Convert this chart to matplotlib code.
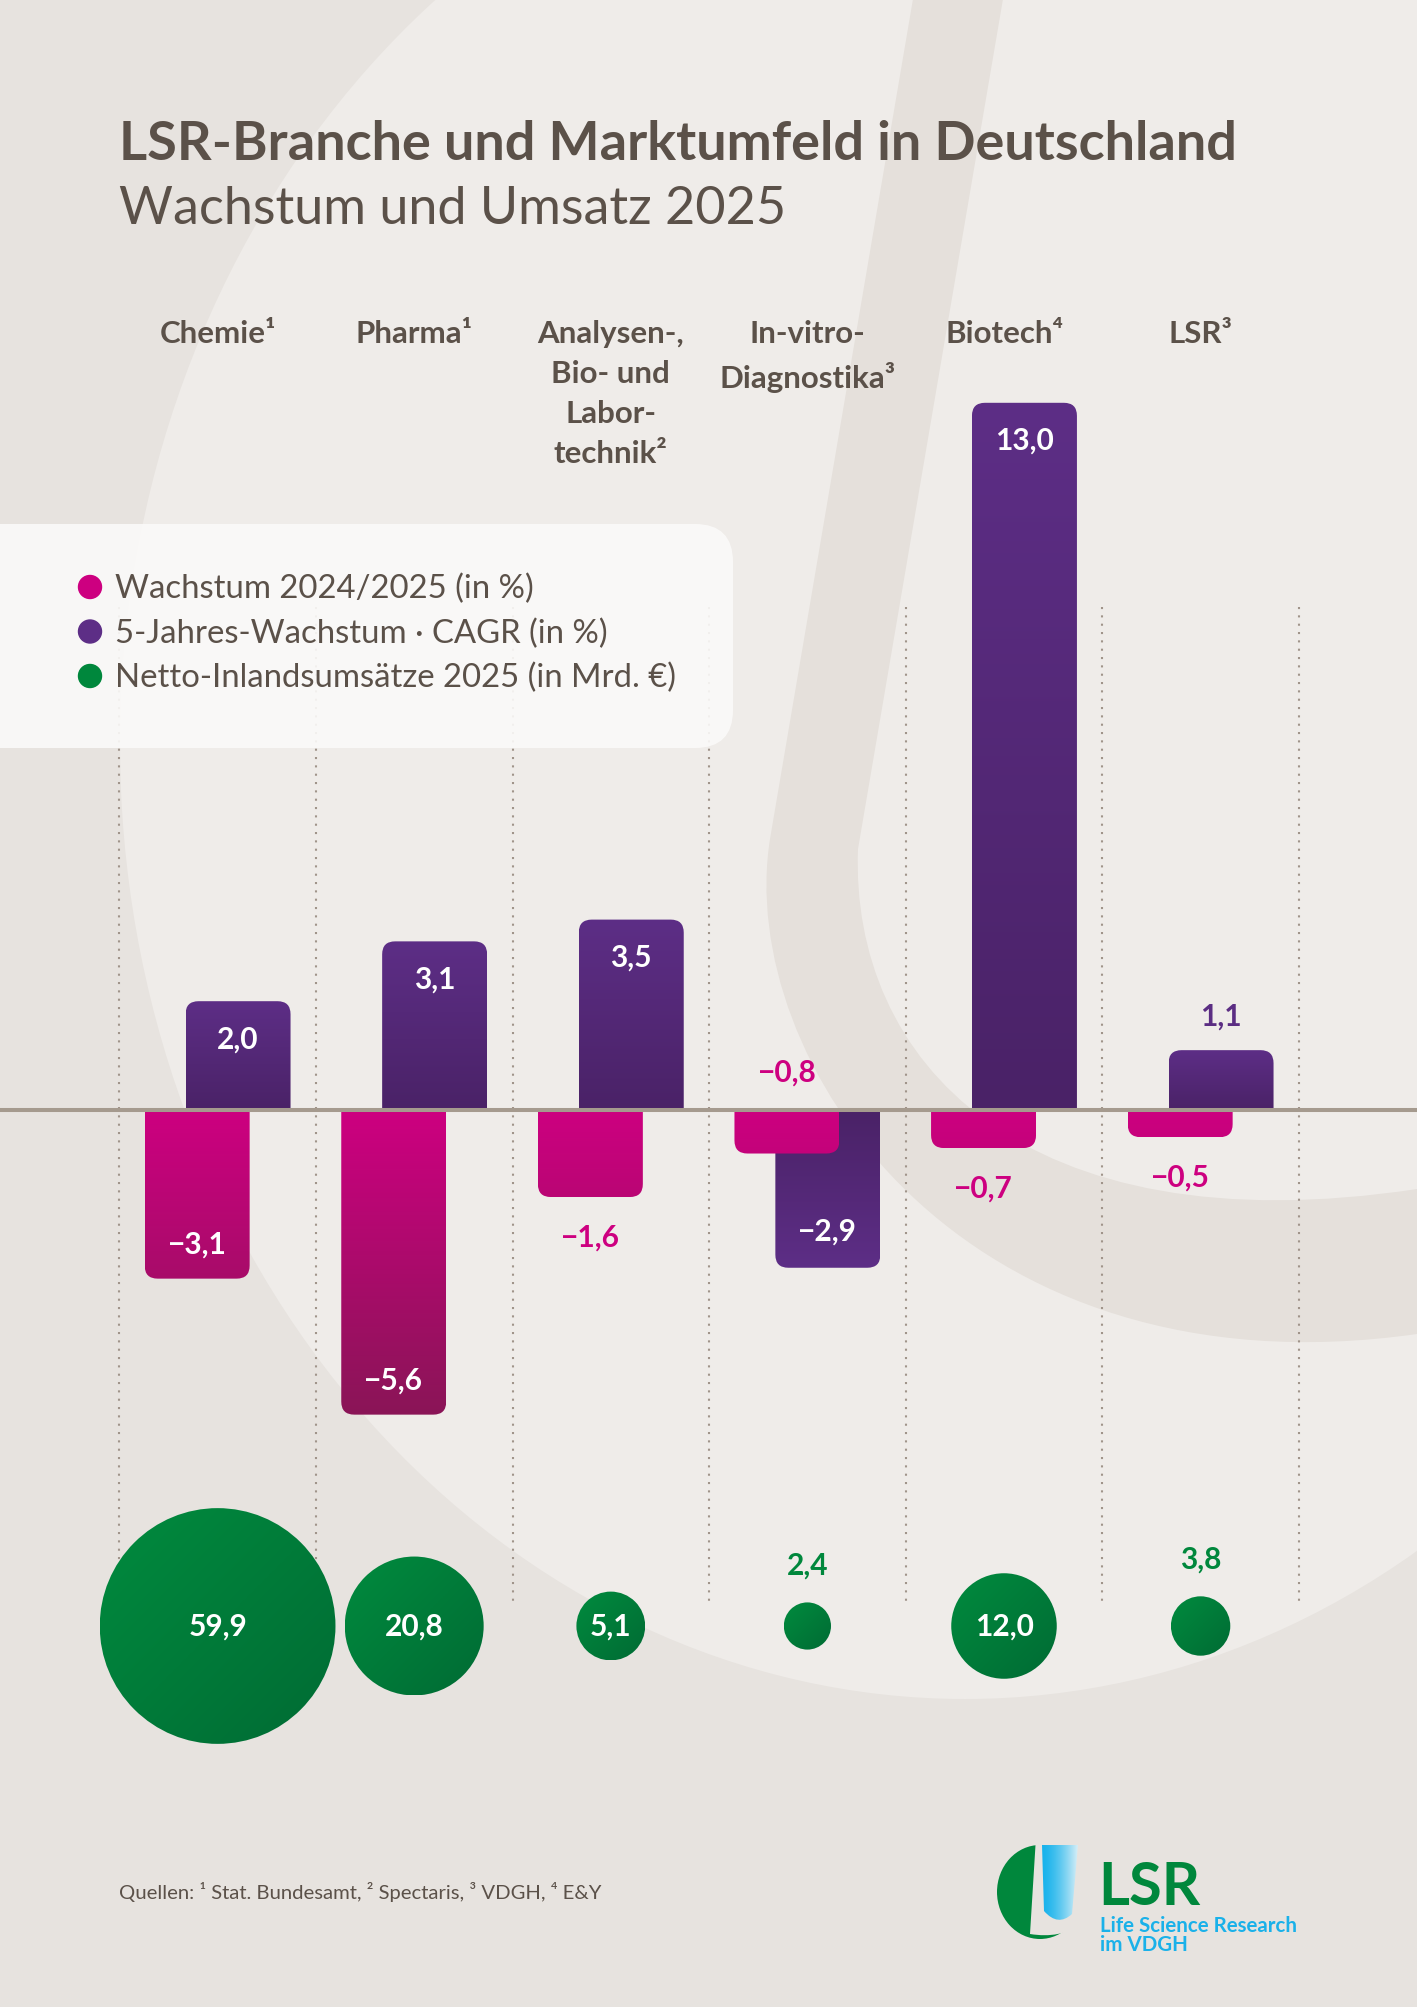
import numpy as np
import matplotlib
matplotlib.use("Agg")
import matplotlib.pyplot as plt
from matplotlib.path import Path
from matplotlib.patches import PathPatch, FancyBboxPatch, Ellipse, Rectangle, Circle
from matplotlib.colors import to_rgb

# ---------------- data ----------------
categories = ["Chemie¹", "Pharma¹", "Analysen-,\nBio- und\nLabor-\ntechnik²",
              "In-vitro-\nDiagnostika³", "Biotech⁴", "LSR³"]
wachstum = [-3.1, -5.6, -1.6, -0.8, -0.7, -0.5]      # Wachstum 2024/2025 (in %)
cagr = [2.0, 3.1, 3.5, -2.9, 13.0, 1.1]              # 5-Jahres-Wachstum CAGR (in %)
umsatz = [59.9, 20.8, 5.1, 2.4, 12.0, 3.8]           # Netto-Inlandsumsätze 2025 (Mrd. €)
legend_labels = ["Wachstum 2024/2025 (in %)",
                 "5-Jahres-Wachstum · CAGR (in %)",
                 "Netto-Inlandsumsätze 2025 (in Mrd. €)"]
title = "LSR-Branche und Marktumfeld in Deutschland"
subtitle = "Wachstum und Umsatz 2025"
source = "Quellen: ¹ Stat. Bundesamt, ² Spectaris, ³ VDGH, ⁴ E&Y"

# ---------------- style ----------------
plt.rcParams['font.family'] = ['Lato', 'DejaVu Sans']
W, H = 1417, 2008
TXT = '#5b5149'
BG = '#e7e3df'
BG_LIGHT = '#efece9'
BAND = '#e5e0db'
PINK0, PINK1 = '#cd0080', '#8a1557'
PURP_BASE, PURP_END = '#4a2267', '#5d2e86'
PURP_TXT = '#5b2d83'
GREEN0, GREEN1 = '#008b3e', '#006b34'
GREEN_TXT = '#00873c'
ZERO_PX, UNIT_PX = 1111, 54.4
COL0_PX, COL_PX = 217.6, 196.6
BAR_W, BAR_OFF = 0.534, 0.104
BUB_Y_PX = 1627
BUB_K = 15.23  # px per sqrt(value)
VAL_FS = 21.5


def fmt(v):
    return f"{v:.1f}".replace(".", ",").replace("-", "\u2212")


def lerp(c0, c1, t):
    a, b = np.array(to_rgb(c0)), np.array(to_rgb(c1))
    return a + (b - a) * t


fig = plt.figure(figsize=(W / 100, H / 100), dpi=100)

# ---------------- background axes (pixel coords) ----------------
bg = fig.add_axes([0, 0, 1, 1])
bg.set_xlim(0, W)
bg.set_ylim(H, 0)
bg.axis('off')
bg.set_zorder(0)
bg.add_patch(Rectangle((0, 0), W, H, color=BG, zorder=0))
bg.add_patch(Ellipse((965, 745), 1690, 1910, color=BG_LIGHT, zorder=0.1, lw=0))
# slanted band (large background logo stroke)
band = Path([(913, 0), (770, 840), (735, 1060), (960, 1400), (1417, 1335),
             (1417, 1190), (1020, 1250), (850, 1060), (858, 850), (1003, 0), (913, 0)],
            [Path.MOVETO, Path.LINETO, Path.CURVE4, Path.CURVE4, Path.CURVE4,
             Path.LINETO, Path.CURVE4, Path.CURVE4, Path.CURVE4, Path.LINETO, Path.CLOSEPOLY])
bg.add_patch(PathPatch(band, fc=BAND, ec='none', zorder=0.2))

# dotted dividers
for i in range(len(categories) + 1):
    xp = COL0_PX + COL_PX * (i - 0.5)
    bg.plot([xp, xp], [608, 1607], color='#a0948a', lw=1.5,
            linestyle=(0, (1.0, 3.0)), zorder=1)

# legend box
bg.add_patch(FancyBboxPatch((-60, 525), 793, 224,
                            boxstyle="round,pad=0,rounding_size=38",
                            fc='#fbfaf9', ec='none', alpha=0.9, zorder=2))
leg_colors = [PINK0, PURP_END, GREEN_TXT]
for k, (lab, col) in enumerate(zip(legend_labels, leg_colors)):
    yy = 588 + 44.5 * k
    bg.add_patch(Circle((90, yy), 11.5, color=col, zorder=3))
    bg.text(115, yy + 1, lab, fontsize=23.7, color=TXT, va='center', ha='left', zorder=3)

# titles
bg.text(119, 160, title, fontsize=39, fontweight='bold', color=TXT, va='baseline', zorder=3)
bg.text(119, 224, subtitle, fontsize=37.5, fontweight='normal', color=TXT, va='baseline', zorder=3)

# category labels
for i, cat in enumerate(categories):
    xp = COL0_PX + COL_PX * i
    bg.text(xp, 320, cat, fontsize=22.5, fontweight='bold', color=TXT, ha='center',
            va='top', multialignment='center', linespacing=1.52, zorder=3)

# footer
bg.text(119, 1892, source, fontsize=14.6, color=TXT, va='center', ha='left', zorder=3)

# logo
bg.add_patch(Ellipse((1040, 1893), 86, 94, color='#00873c', zorder=3, lw=0))
cut = Path([(1036, 1838), (1092, 1838), (1082, 1925), (1060, 1940), (1030, 1935),
            (1036, 1838)],
           [Path.MOVETO, Path.LINETO, Path.LINETO, Path.CURVE3, Path.CURVE3, Path.CLOSEPOLY])
bg.add_patch(PathPatch(cut, fc=BG, ec='none', zorder=3.1))
blue = Path([(1042, 1846), (1078, 1846), (1072, 1915), (1058, 1928), (1044, 1912),
             (1042, 1846)],
            [Path.MOVETO, Path.LINETO, Path.LINETO, Path.CURVE3, Path.CURVE3, Path.CLOSEPOLY])
bp = PathPatch(blue, fc='none', ec='none', zorder=3.2)
bg.add_patch(bp)
gx = np.linspace(0, 1, 64)
garr = np.array([[lerp('#19b3ec', '#e6f3f8', t ** 1.5) for t in gx]])
im = bg.imshow(garr, extent=(1042, 1080, 1930, 1846), aspect='auto', zorder=3.2,
               interpolation='bilinear')
im.set_clip_path(bp)
bg.text(1098, 1905, "LSR", fontsize=43, fontweight='bold', color='#00873c',
        va='baseline', ha='left', zorder=3)
bg.text(1100, 1932, "Life Science Research", fontsize=14.8, fontweight='bold',
        color='#1ab1e9', va='baseline', ha='left', zorder=3)
bg.text(1100, 1951, "im VDGH", fontsize=14.8, fontweight='bold',
        color='#1ab1e9', va='baseline', ha='left', zorder=3)
bg.set_xlim(0, W)
bg.set_ylim(H, 0)

# ---------------- bar axes ----------------
ax = fig.add_axes([0, 0, 1, 1])
ax.set_zorder(1)
ax.patch.set_alpha(0)
ax.axis('off')
XLIM = (-COL0_PX / COL_PX, (W - COL0_PX) / COL_PX)
YLIM = (-(H - ZERO_PX) / UNIT_PX, ZERO_PX / UNIT_PX)
ax.set_xlim(*XLIM)
ax.set_ylim(*YLIM)
RX = 13 / COL_PX
RY = 13 / UNIT_PX


def bar_path(xc, w, v):
    x0, x1 = xc - w / 2, xc + w / 2
    s = 1 if v >= 0 else -1
    ry = min(RY, abs(v) * 0.5)
    yc = v - s * ry
    verts = [(x0, 0), (x0, yc), (x0, v), (x0 + RX, v), (x1 - RX, v), (x1, v),
             (x1, yc), (x1, 0), (x0, 0)]
    codes = [Path.MOVETO, Path.LINETO, Path.CURVE3, Path.CURVE3, Path.LINETO,
             Path.CURVE3, Path.CURVE3, Path.LINETO, Path.CLOSEPOLY]
    return Path(verts, codes)


def gradient_bar(xc, v, c_base, c_end, z):
    path = bar_path(xc, BAR_W, v)
    patch = PathPatch(path, fc='none', ec='none', zorder=z)
    ax.add_patch(patch)
    n = 128
    t = np.linspace(0, 1, n)           # 0 at baseline -> 1 at bar end
    cols = np.array([lerp(c_base, c_end, tt) for tt in t])
    if v < 0:
        cols = cols[::-1]               # origin lower: row 0 = most negative
    arr = cols[:, None, :]
    im = ax.imshow(arr, extent=(xc - BAR_W / 2, xc + BAR_W / 2, min(0, v), max(0, v)),
                   aspect='auto', origin='lower', interpolation='bilinear', zorder=z)
    im.set_clip_path(patch)


max_neg = max(abs(v) for v in wachstum)
for i, (wv, cv) in enumerate(zip(wachstum, cagr)):
    # purple (CAGR), right
    xp = i + BAR_OFF
    gradient_bar(xp, cv, PURP_BASE, PURP_END, 2)
    # pink (Wachstum), left
    xk = i - BAR_OFF
    end_col = lerp(PINK0, PINK1, abs(wv) / max_neg)
    gradient_bar(xk, wv, PINK0, end_col, 3)

    # purple label
    if abs(cv) >= 2:
        yv = cv - np.sign(cv) * 0.68
        ax.text(xp, yv, fmt(cv), color='white', fontsize=VAL_FS, fontweight='bold',
                ha='center', va='center', zorder=5)
    else:
        yv = cv + np.sign(cv) * 0.64
        ax.text(xp, yv, fmt(cv), color=PURP_TXT, fontsize=VAL_FS, fontweight='bold',
                ha='center', va='center', zorder=5)
    # pink label
    if abs(wv) >= 2:
        ax.text(xk, wv + 0.65, fmt(wv), color='white', fontsize=VAL_FS, fontweight='bold',
                ha='center', va='center', zorder=5)
    elif cv < wv:
        ax.text(xk, 0.71, fmt(wv), color=PINK0, fontsize=VAL_FS, fontweight='bold',
                ha='center', va='center', zorder=5)
    else:
        ax.text(xk, wv - 0.73, fmt(wv), color=PINK0, fontsize=VAL_FS, fontweight='bold',
                ha='center', va='center', zorder=5)

ax.axhline(0, color='#a59a8e', lw=2.9, zorder=4)
ax.set_xlim(*XLIM)
ax.set_ylim(*YLIM)

# ---------------- bubble axes ----------------
HB = 500
bax = fig.add_axes([0, (H - BUB_Y_PX - HB / 2) / H, 1, HB / H])
bax.set_zorder(2)
bax.patch.set_alpha(0)
bax.axis('off')
bax.set_xlim(*XLIM)
bax.set_ylim(-HB / 2, HB / 2)
gg = np.linspace(0, 1, 96)
GX, GY = np.meshgrid(gg, gg)
for i, v in enumerate(umsatz):
    r = BUB_K * np.sqrt(v)
    e = Ellipse((i, 0), 2 * r / COL_PX, 2 * r, fc='none', ec='none', zorder=2)
    bax.add_patch(e)
    tt = np.clip((GX + (1 - GY)) / 2, 0, 1)  # origin lower: GY=0 bottom
    arr = np.array(to_rgb(GREEN0))[None, None, :] + \
        (np.array(to_rgb(GREEN1)) - np.array(to_rgb(GREEN0)))[None, None, :] * tt[..., None]
    im = bax.imshow(arr, extent=(i - r / COL_PX, i + r / COL_PX, -r, r), aspect='auto',
                    origin='lower', interpolation='bilinear', zorder=2)
    im.set_clip_path(e)
    if v >= 5:
        bax.text(i, 0, fmt(v), color='white', fontsize=VAL_FS, fontweight='bold',
                 ha='center', va='center', zorder=3)
    else:
        bax.text(i, r + 38, fmt(v), color=GREEN_TXT, fontsize=VAL_FS, fontweight='bold',
                 ha='center', va='center', zorder=3)
bax.set_xlim(*XLIM)
bax.set_ylim(-HB / 2, HB / 2)

fig.savefig('out.png', dpi=100)
